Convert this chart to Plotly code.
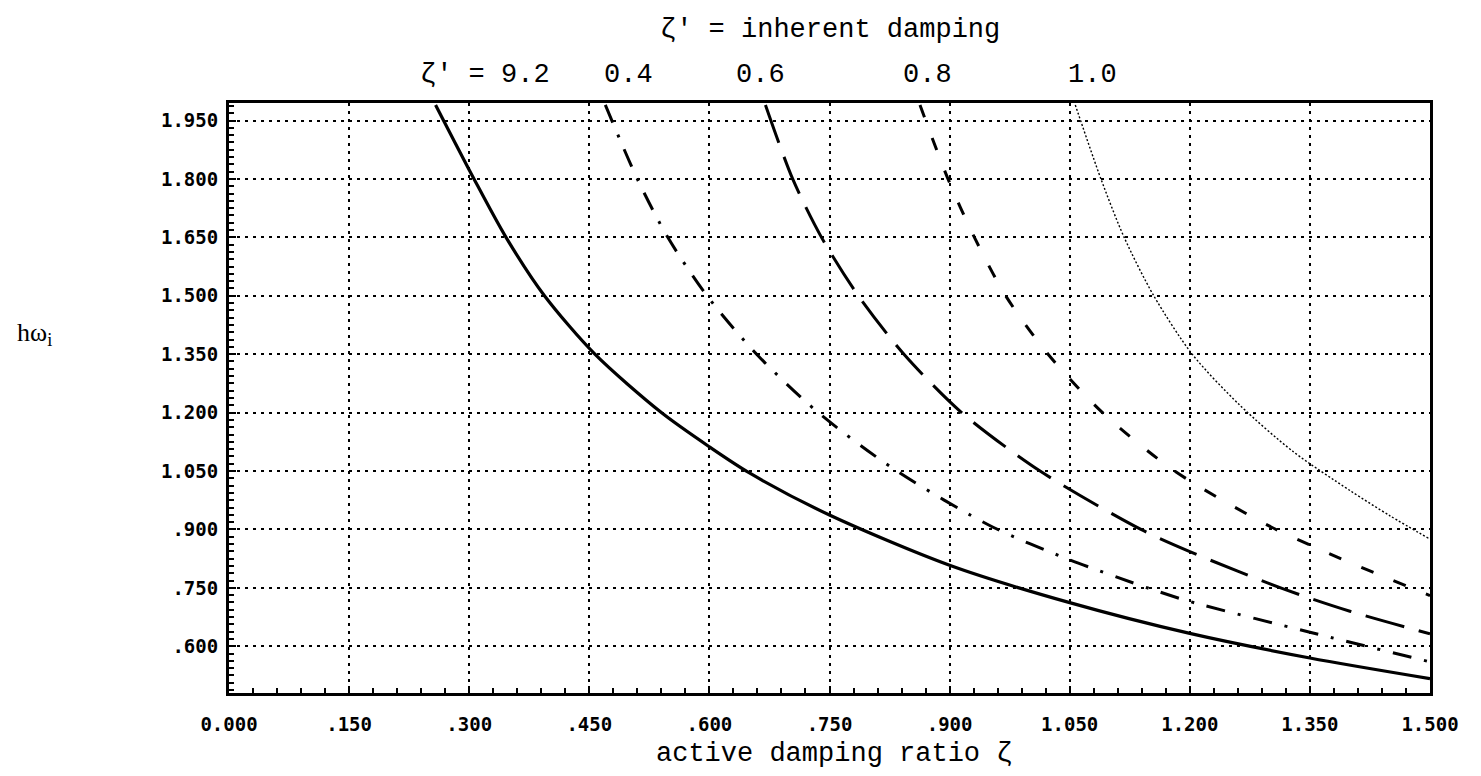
import plotly.graph_objects as go

# Active damping ratio (x) vs. h*omega_i (y) for several inherent damping values
zeta_02 = [0.258, 0.306, 0.346, 0.394, 0.457, 0.540, 0.600, 0.650, 0.750, 0.900, 1.050, 1.200, 1.350, 1.500]
hw_02 = [1.990, 1.800, 1.650, 1.500, 1.350, 1.200, 1.112, 1.045, 0.937, 0.808, 0.712, 0.633, 0.570, 0.517]

zeta_04 = [0.470, 0.510, 0.548, 0.597, 0.659, 0.736, 0.834, 0.955, 1.050, 1.150, 1.200, 1.350, 1.500]
hw_04 = [1.990, 1.800, 1.650, 1.500, 1.350, 1.200, 1.050, 0.905, 0.822, 0.748, 0.715, 0.636, 0.560]

zeta_06 = [0.670, 0.704, 0.740, 0.786, 0.843, 0.915, 1.013, 1.139, 1.200, 1.316, 1.400, 1.500]
hw_06 = [1.990, 1.800, 1.650, 1.500, 1.350, 1.200, 1.050, 0.900, 0.843, 0.748, 0.690, 0.632]

zeta_08 = [0.863, 0.898, 0.931, 0.970, 1.023, 1.091, 1.181, 1.299, 1.350, 1.400, 1.450, 1.500]
hw_08 = [1.990, 1.800, 1.650, 1.500, 1.350, 1.200, 1.050, 0.909, 0.860, 0.815, 0.772, 0.730]

zeta_10 = [1.057, 1.089, 1.118, 1.155, 1.203, 1.262, 1.329, 1.400, 1.450, 1.500]
hw_10 = [1.990, 1.800, 1.650, 1.500, 1.350, 1.220, 1.100, 1.000, 0.935, 0.875]

x_ticks = [0.0, 0.15, 0.30, 0.45, 0.60, 0.75, 0.90, 1.05, 1.20, 1.35, 1.50]
x_tick_text = ["0.000", ".150", ".300", ".450", ".600", ".750", ".900", "1.050", "1.200", "1.350", "1.500"]
y_ticks = [0.60, 0.75, 0.90, 1.05, 1.20, 1.35, 1.50, 1.65, 1.80, 1.95]
y_tick_text = [".600", ".750", ".900", "1.050", "1.200", "1.350", "1.500", "1.650", "1.800", "1.950"]

curve_labels = ["ζ' = 9.2", "0.4", "0.6", "0.8", "1.0"]

MONO = "Liberation Mono, Courier New, monospace"
SERIF = "Liberation Serif, Times New Roman, serif"

# plotting area in page pixels
PL, PR, PT, PB = 229, 1430, 103, 693
W, H = 1481, 776

fig = go.Figure()

series = [
    (zeta_02, hw_02, "solid", 3.2),
    (zeta_04, hw_04, "19px,13px,3px,13px", 3.0),
    (zeta_06, hw_06, "40px,15px", 3.0),
    (zeta_08, hw_08, "13px,22px", 3.0),
    (zeta_10, hw_10, "2px,2px", 1.4),
]
for xs, ys, dash, w in series:
    fig.add_trace(go.Scatter(
        x=xs, y=ys, mode="lines",
        line=dict(color="black", width=w, dash=dash, shape="spline", smoothing=0.8),
        showlegend=False, hoverinfo="skip",
    ))

axis_common = dict(
    showline=True, linecolor="black", linewidth=3, mirror=True,
    showgrid=True, gridcolor="black", gridwidth=2, griddash="3px,5px",
    zeroline=False,
    ticks="inside", ticklen=7, tickwidth=2, tickcolor="black",
    tickfont=dict(family="DejaVu Sans Mono, monospace", size=19, color="black", weight="bold"),
)

fig.update_xaxes(
    range=[0, 1.5], tickmode="array", tickvals=x_ticks, ticktext=x_tick_text,
    ticklabelstandoff=12,
    minor=dict(ticks="inside", dtick=0.03, ticklen=5, tickwidth=2, tickcolor="black", showgrid=False),
    **axis_common,
)
fig.update_yaxes(
    range=[0.48, 1.995], tickmode="array", tickvals=y_ticks, ticktext=y_tick_text,
    ticklabelstandoff=4,
    minor=dict(ticks="inside", tick0=0.6, dtick=0.01875, ticklen=5, tickwidth=2, tickcolor="black", showgrid=False),
    **axis_common,
)

annotations = [
    dict(text="ζ' = inherent damping", x=830, y=30, font=dict(family=MONO, size=27, color="black")),
    dict(text="active damping ratio ζ", x=834, y=754, font=dict(family=MONO, size=27, color="black")),
    dict(text="hω<sub>i</sub>", x=34, y=334, font=dict(family=SERIF, size=26, color="black")),
]
label_x = [485, 628, 760, 927, 1092]
for txt, lx in zip(curve_labels, label_x):
    annotations.append(dict(text=txt, x=lx, y=75, font=dict(family=MONO, size=27, color="black")))

for a in annotations:
    a.update(xref="paper", yref="paper", showarrow=False, xanchor="center", yanchor="middle")
    # pixel position -> paper coordinates of the plotting area
    a["x"] = (a["x"] - PL) / (PR - PL)
    a["y"] = 1 - (a["y"] - PT) / (PB - PT)

fig.update_layout(
    width=W, height=H,
    margin=dict(l=PL, r=W - PR, t=PT, b=H - PB),
    paper_bgcolor="white", plot_bgcolor="white",
    annotations=annotations,
)

fig.write_html("out.html", include_plotlyjs=True)
